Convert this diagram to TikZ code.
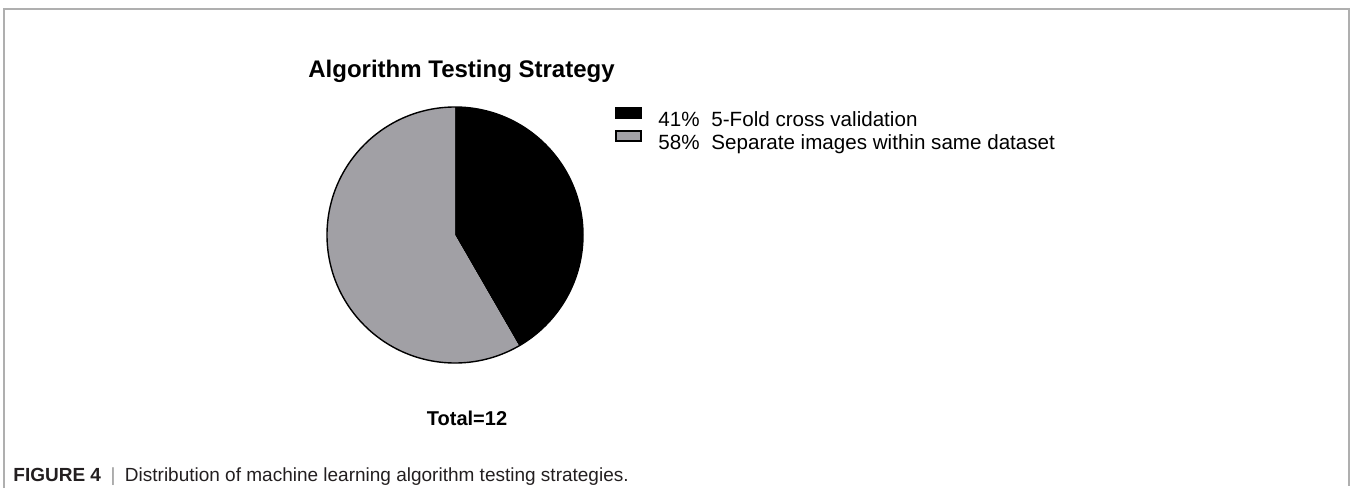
\documentclass[tikz,border=0pt]{standalone}
\usepackage{fontspec}
\setmainfont{Liberation Sans}
\setsansfont{Liberation Sans}
\usetikzlibrary{positioning}

\definecolor{piegray}{RGB}{161,160,165}
\definecolor{framegray}{RGB}{175,175,175}
\definecolor{captext}{RGB}{35,31,32}
\definecolor{capbar}{RGB}{150,150,150}

\begin{document}
\begin{tikzpicture}[
    x=0.5pt, y=0.5pt,
    every node/.style={font=\sffamily, inner sep=0pt},
    title/.style={font=\sffamily\bfseries\fontsize{12}{14}\selectfont, anchor=base west},
    legendtext/.style={font=\sffamily\fontsize{10.3}{12}\selectfont, anchor=base west},
    legendbox/.style={
        rectangle,
        draw=black,
        line width=1pt,
        minimum width=12.5pt,
        minimum height=4.8pt
    },
    total/.style={font=\sffamily\bfseries\fontsize{10}{12}\selectfont, anchor=base},
    caption/.style={font=\sffamily\fontsize{9.5}{11}\selectfont, text=captext, anchor=base west}
]
\useasboundingbox (0,0) rectangle (1352,488);

% frame round the figure
\draw[framegray, line width=0.8pt] (4,0) -- (4,479) -- (1349,479) -- (1349,2);

% pie: 5 of 12 black, 7 of 12 gray
\coordinate (c) at (455,253);
\fill[black] (c) -- ++(90:128) arc[start angle=90, end angle=-60, radius=128] -- cycle;
\fill[piegray] (c) -- ++(-60:128) arc[start angle=-60, end angle=-270, radius=128] -- cycle;
\draw[black, line width=0.7pt] (c) circle[radius=128];

\node[title] (head) at (308,410) {Algorithm Testing Strategy};

% legend
\node[legendtext] (p1) at (658,361) {41\%};
\node[legendtext] (d1) at (711,361) {5-Fold cross validation};
\node[legendtext] (p2) at (658,338) {58\%};
\node[legendtext] (d2) at (711,338) {Separate images within same dataset};
\node[legendbox, fill=black, left=8pt of p1.west, yshift=3.6pt] (k1) {};
\node[legendbox, fill=piegray, left=8pt of p2.west, yshift=3.6pt] (k2) {};

\node[total] (sum) at (467,63) {Total=12};

\node[caption] (cap) at (13,7) {{\bfseries FIGURE 4}\enspace{\color{capbar}|}\enspace Distribution of machine learning algorithm testing strategies.};

\end{tikzpicture}
\end{document}
